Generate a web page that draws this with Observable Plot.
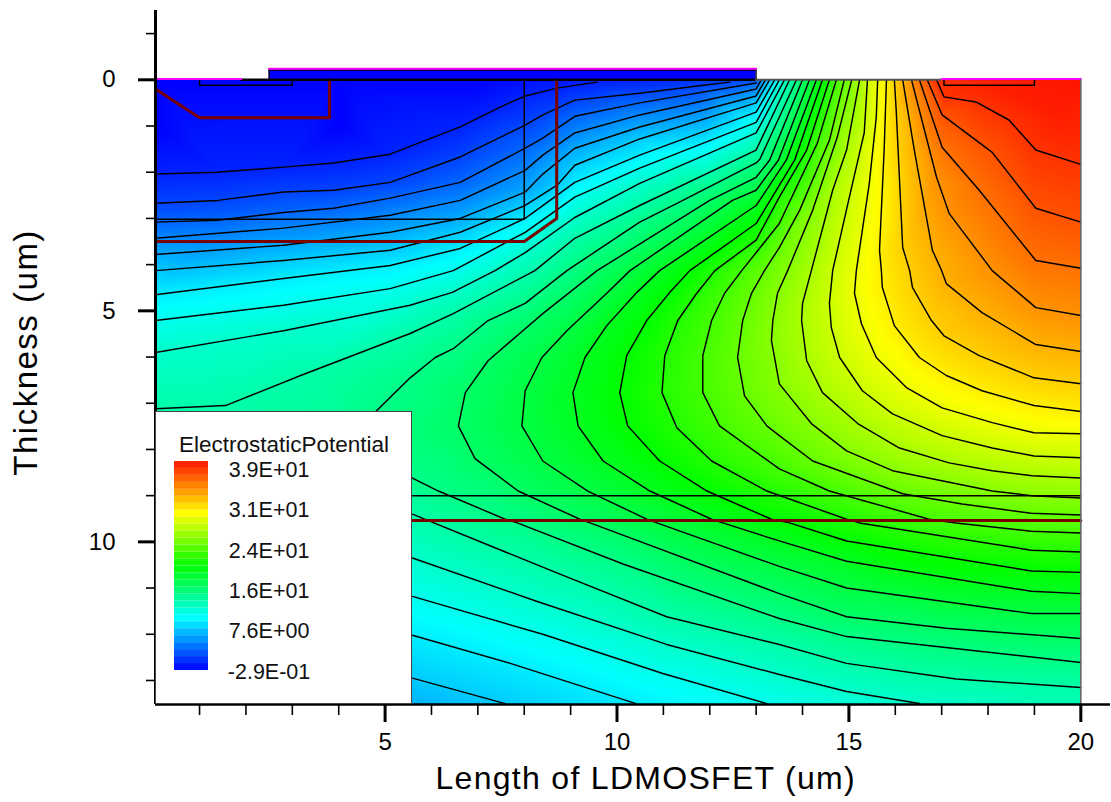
<!DOCTYPE html>
<html><head><meta charset="utf-8">
<script src="https://cdn.jsdelivr.net/npm/d3@7"></script>
<script src="https://cdn.jsdelivr.net/npm/@observablehq/plot@0.6"></script>
<style>
html,body{margin:0;padding:0;background:#fff}
#wrap{position:relative;width:1111px;height:802px;overflow:hidden}
#legend{position:absolute;left:155px;top:411px;width:257px;height:293px;background:#fff;box-sizing:border-box;box-shadow:inset 0 0 0 1px #444}
svg{display:block}
.xtitle text{letter-spacing:1.3px}
.ytitle text{letter-spacing:1.5px}
</style></head><body><div id="wrap"><div id="chart"></div><div id="legend"></div></div>
<script>
const levels = [1.02,2.33,3.64,4.95,6.26,7.57,8.88,10.19,11.5,12.81,14.12,15.43,16.74,18.05,19.36,20.67,21.98,23.29,24.6,25.91,27.22,28.53,29.84,31.15,32.46,33.77,35.08,36.39,37.7];
// Contour polylines, [x um, depth um]
const c01=[[0.05,2.04],[1.39,2.0],[2.81,1.89],[3.89,1.80],[5.11,1.61],[6.62,1.02],[7.48,0.59],[8.02,0.35],[8.71,0.18],[9.57,0.05]];
const c02=[[0.05,2.67],[1.39,2.61],[2.81,2.43],[3.89,2.39],[5.11,2.22],[6.62,1.67],[8.02,0.98],[8.40,0.76],[9.09,0.44],[10.49,0.29],[11.78,0.13],[12.43,0.05]];
const c03=[[0.05,3.08],[1.39,3.04],[2.81,2.87],[3.89,2.78],[5.11,2.56],[6.62,2.22],[8.02,1.48],[8.40,1.26],[9.09,0.79],[10.49,0.50],[13,0.07]];
const c04=[[0.05,3.43],[2.81,3.21],[5.11,2.93],[6.62,2.61],[8.02,1.96],[8.40,1.63],[9.09,1.15],[10.49,0.76],[13,0.20],[13.11,0]];
const c05=[[0.05,3.78],[2.81,3.58],[5.11,3.30],[6.62,3.0],[8.02,2.43],[8.40,2.04],[9.09,1.48],[10.49,1.02],[13,0.35],[13.2,0]];
const c06=[[0.05,4.13],[2.81,3.91],[5.11,3.69],[6.62,3.30],[8.02,2.72],[8.71,2.28],[9.09,1.85],[10.49,1.28],[13,0.50],[13.29,0]];
const c07=[[0.05,4.65],[2.81,4.30],[5.11,4.02],[6.62,3.65],[8.02,3.0],[9.09,2.22],[10.49,1.63],[13,0.70],[13.40,0]];
const c08=[[0.05,5.21],[2.81,4.88],[5.11,4.52],[6.47,4.13],[8.02,3.30],[9.09,2.54],[10.49,1.91],[13,0.92],[13.5,0]];
const c09=[[0.05,5.90],[2.81,5.43],[5.54,4.88],[6.45,4.60],[7.37,4.13],[8.02,3.74],[9.09,2.98],[10.49,2.24],[13,1.15],[13.61,0]];
const c10=[[0.05,7.12],[1.56,7.05],[3.18,6.40],[5.54,5.49],[6.47,5.06],[8.23,4.13],[9.09,3.43],[10.49,2.72],[13,1.52],[13.72,0]];
const c11=[[13.87,0],[13.08,1.72],[13,1.80],[11.42,2.61],[10.49,3.08],[8.92,4.13],[8.02,4.84],[7.22,5.21],[6.47,5.82],[6.08,6.01],[5.54,6.45],[4.8,7.18],[4.8,7.9],[5.59,8.62],[6.15,8.90],[7.59,9.51],[7.85,9.59],[10.13,10.48],[13.5,11.66],[14.95,12.05],[20,12.61]];
const c12=[[14.0,0],[13.29,1.74],[13,2.11],[12.0,2.61],[9.57,4.13],[8.40,5.06],[7.97,5.43],[7.22,6.08],[6.73,6.77],[6.58,7.49],[6.94,8.20],[7.87,8.90],[9.2,9.51],[9.42,9.59],[13.5,11.12],[14.95,11.62],[17.1,11.87],[20,12.09]];
const c13=[[14.15,0],[13.48,1.74],[13,2.39],[12.49,2.61],[10.28,4.13],[9.78,4.62],[8.92,5.43],[8.38,6.01],[8.02,6.73],[7.95,7.49],[8.40,8.25],[9.37,8.90],[10.64,9.51],[10.86,9.59],[13.5,10.53],[14.95,11.0],[18.93,11.55],[20,11.55]];
const c14=[[14.30,0],[13.65,1.74],[13,2.72],[10.92,4.13],[10.43,4.60],[9.78,5.32],[9.31,6.01],[9.05,6.77],[9.16,7.49],[9.70,8.25],[10.71,8.90],[12.04,9.51],[12.28,9.59],[13.5,9.98],[14.95,10.42],[18.93,11.07],[20,11.12]];
const c15=[[14.43,0],[13.83,1.74],[13,3.11],[11.57,4.13],[11.14,4.60],[10.64,5.21],[10.21,5.97],[10.06,6.77],[10.23,7.49],[10.92,8.25],[11.94,8.90],[13.33,9.51],[13.72,9.59],[14.95,9.98],[18.93,10.63],[20,10.66]];
const c16=[[14.58,0],[14.09,1.52],[13.5,2.54],[13,3.47],[12.11,4.13],[11.72,4.62],[11.31,5.21],[11.03,5.97],[10.97,6.77],[11.29,7.53],[12.04,8.25],[13.23,8.90],[14.95,9.51],[15.23,9.59],[18.93,10.18],[20,10.22]];
const c17=[[14.73,0],[14.32,1.37],[13.5,3.11],[12.69,4.13],[12.32,4.62],[12.04,5.21],[11.85,5.97],[11.85,6.77],[12.21,7.49],[13.5,8.42],[14.58,8.90],[16.73,9.51],[17.31,9.59],[18.93,9.77],[20,9.81]];
const c18=[[14.90,0],[14.58,1.31],[13.94,2.82],[13.5,3.63],[13.18,4.13],[12.90,4.62],[12.71,5.21],[12.60,6.01],[12.75,6.84],[13.23,7.49],[13.5,7.70],[14.22,8.25],[16.16,8.96],[17.44,9.18],[18.93,9.38],[20,9.42]];
const c19=[[15.06,0],[14.75,1.24],[14.22,2.82],[13.68,4.13],[13.46,4.62],[13.36,5.21],[13.33,5.64],[13.5,6.58],[14.19,7.44],[14.95,8.03],[15.94,8.46],[18.09,8.90],[18.93,9.0],[20,9.05]];
const c20=[[15.23,0],[14.95,1.52],[14.65,2.39],[14.19,4.13],[14.0,4.84],[13.98,5.21],[14.09,6.08],[14.43,6.77],[15.19,7.44],[16.09,7.97],[17.16,8.29],[18.09,8.46],[18.95,8.57],[20,8.62]];
const c21=[[15.40,0],[15.33,1.15],[15.01,2.54],[14.65,4.13],[14.58,4.84],[14.62,5.36],[14.80,6.01],[15.29,6.73],[15.94,7.23],[17.01,7.70],[18.09,7.97],[18.99,8.14],[20,8.18]];
const c22=[[15.62,0],[15.59,0.81],[15.44,2.24],[15.16,4.13],[15.12,4.62],[15.27,5.28],[15.59,6.01],[16.24,6.66],[17.01,7.10],[18.09,7.42],[18.99,7.64],[20,7.66]];
const c23=[[15.81,0],[15.76,1.52],[15.66,3.69],[15.70,4.13],[15.72,4.49],[15.98,5.32],[16.52,6.01],[17.10,6.40],[17.87,6.73],[18.99,7.05],[20,7.18]];
const c24=[[15.98,0],[16.02,0.66],[16.16,3.63],[16.31,4.13],[16.37,4.49],[16.78,5.21],[17.05,5.54],[17.81,5.97],[18.99,6.45],[20,6.58]];
const c25=[[16.16,0],[16.41,1.52],[16.80,3.69],[17.0,4.13],[17.10,4.41],[17.87,5.04],[19.03,5.73],[20,5.88]];
const c26=[[16.35,0],[16.89,2.11],[17.16,2.89],[18.09,4.13],[19.03,4.93],[20,5.10]];
const c27=[[16.52,0],[17.01,1.46],[17.81,2.39],[19.03,3.91],[20,4.08]];
const c28=[[16.69,0],[17.01,0.76],[18.09,1.57],[19.03,2.78],[20,3.08]];
const c29=[[16.89,0],[17.05,0.37],[17.74,0.48],[18.45,0.87],[19.03,1.52],[20,1.83]];
// Lower arms (emerge from behind the legend)
const c06b=[[5.59,12.95],[7.59,13.5]];
const c07b=[[5.59,12.02],[7.70,12.63],[10.41,13.5]];
const c08b=[[5.59,11.18],[8.40,12.0],[10.99,12.85],[13.23,13.5]];
const c09b=[[5.59,10.35],[8.28,11.29],[11.07,12.22],[13.5,12.87],[14.95,13.24],[16.52,13.5]];
const c10b=[[5.59,9.40],[8.77,10.70],[11.07,11.62],[13.5,12.22],[14.95,12.63],[17.31,12.97],[20,13.15]];
// Field values between the lines: [x, depth, volts]
const fieldExtra=[[0.05,0,-0.29],[4,0,-0.29],[7,0,-0.29],[0.05,1,-0.29],[4,1,-0.29],[11,0,1.2],[13,0,3],
 [18,0,38.6],[20,0,39],[19.5,0.8,38.6],[0.05,13.52,5],[5.59,13.52,6.6],[20,13.52,12.4],[0.05,10,12]];

const contourSets=[c01,c02,c03,c04,c05,c06,c07,c08,c09,c10,c11,c12,c13,c14,c15,c16,c17,c18,c19,c20,c21,c22,c23,c24,c25,c26,c27,c28,c29];
const lowerSets=[[c06b,5],[c07b,6],[c08b,7],[c09b,8],[c10b,9]];
const pts=[];
contourSets.forEach((c,i)=>c.forEach(p=>pts.push({id:"u"+i,x:p[0],y:p[1],v:levels[i]})));
lowerSets.forEach(([c,i])=>c.forEach(p=>pts.push({id:"l"+i,x:p[0],y:p[1],v:levels[i]})));
const field=pts.concat(fieldExtra.map(p=>({x:p[0],y:p[1],v:p[2]})));

// Colour scale stops
const colorDomain=[-0.29,9.53,19.35,29.17,39];
const colorRange=["#0000ff","#00ffff","#00ff00","#ffff00","#ff1400"];
const colorScale={type:"linear",domain:colorDomain,range:colorRange,interpolate:"rgb",clamp:true};

// Device structure outlines
const gate=[{x1:2.5,x2:13,y1:-0.22,y2:0,v:-0.29}];
const magentaLines=[[[0.05,-0.02],[1.9,-0.02]],[[2.5,-0.24],[13,-0.24]],[[17,-0.02],[20,-0.02]]];
const blackThin=[[[1,0],[1,0.12],[3,0.12],[3,0]],[[17.05,0],[17.05,0.12],[19,0.12],[19,0]],[[8,0],[8,3.02],[0.05,3.02]],[[5.59,9.0],[20,9.0]]];
const redLines=[[[0.05,0.2],[1,0.82],[3.8,0.82],[3.8,0]],[[8.7,0],[8.7,3.0],[8,3.5],[0.05,3.5]],[[5.59,9.54],[20,9.54]]];
const toRows=(sets)=>sets.flatMap((s,i)=>s.map(p=>({id:i,x:p[0],y:p[1]})));

const xMajor=[5,10,15,20], xMinor=[1,2,3,4,6,7,8,9,11,12,13,14,16,17,18,19];
const yMajor=[0,5,10], yMinor=[-1,1,2,3,4,6,7,8,9,11,12,13];
const font="'Liberation Sans',Arial,sans-serif";

const chart=Plot.plot({
  width:1111,height:802,
  marginLeft:155,marginRight:1,marginTop:10,marginBottom:98,
  x:{domain:[0.05,20.64],axis:null},
  y:{domain:[-1.5,13.52],reverse:true,axis:null},
  color:colorScale,
  style:{fontFamily:font,background:"#fff",overflow:"visible"},
  marks:[
    Plot.raster(field,{x:"x",y:"y",fill:"v",interpolate:"barycentric",pixelSize:1,x1:0.05,x2:20,y1:0,y2:13.52,imageRendering:"auto"}),
    Plot.rect(gate,{x1:"x1",x2:"x2",y1:"y1",y2:"y2",fill:"v"}),
    Plot.line(pts,{x:"x",y:"y",z:"id",stroke:"#000",strokeWidth:1.45,curve:"linear"}),
    Plot.line(toRows(blackThin),{x:"x",y:"y",z:"id",stroke:"#000",strokeWidth:1.5}),
    Plot.line(toRows(redLines),{x:"x",y:"y",z:"id",stroke:"#7a0000",strokeWidth:3}),
    Plot.ruleY([0],{x1:1.9,x2:13,stroke:"#000",strokeWidth:2.6}),
    Plot.ruleY([0],{x1:13,x2:17,stroke:"#555",strokeWidth:2}),
    Plot.ruleX([2.5],{y1:-0.24,y2:0,stroke:"#000",strokeWidth:1.2}),
    Plot.ruleX([13],{y1:-0.24,y2:0,stroke:"#000",strokeWidth:1.2}),
    Plot.ruleY([-0.21],{x1:2.5,x2:13,stroke:"#000",strokeWidth:1.2}),
    Plot.line(toRows(magentaLines),{x:"x",y:"y",z:"id",stroke:"#ff00ff",strokeWidth:2}),
    Plot.ruleX([20],{y1:0,y2:13.52,stroke:"#666",strokeWidth:1.6}),
    Plot.ruleX([0.05],{y1:-1.5,y2:13.52,stroke:"#000",strokeWidth:3}),
    Plot.ruleY([13.52],{x1:0.05,x2:20.64,stroke:"#000",strokeWidth:2.4}),
    Plot.axisX({ticks:xMinor,tickSize:11,strokeWidth:1.6,stroke:"#000",tickFormat:()=>"",label:null}),
    Plot.axisX({ticks:xMajor,tickSize:18,strokeWidth:3,stroke:"#000",tickPadding:10,fontSize:24,label:null,tickFormat:d=>d}),
    Plot.axisY({ticks:yMinor,tickSize:9,strokeWidth:1.6,stroke:"#000",tickFormat:()=>"",label:null}),
    Plot.axisY({ticks:yMajor,tickSize:17,strokeWidth:3,stroke:"#000",tickPadding:23,fontSize:24,label:null,tickFormat:d=>d}),
    Plot.text(["Length of LDMOSFET (um)"],{x:()=>10.62,frameAnchor:"bottom",dy:84,fontSize:32,fill:"#000",className:"xtitle"}),
    Plot.text(["Thickness (um)"],{y:()=>5.9,frameAnchor:"left",textAnchor:"middle",dx:-129,rotate:-90,fontSize:33,fill:"#000",className:"ytitle"})
  ]
});
document.getElementById("chart").appendChild(chart);

// Legend
const bandEdges=[-0.29,1.02,2.33,3.64,4.95,6.26,7.57,8.88,10.19,11.5,12.81,14.12,15.43,16.74,18.05,19.36,20.67,21.98,23.29,24.6,25.91,27.22,28.53,29.84,31.15,32.46,33.77,35.08,36.39,37.7,39];
const legendLabels=["3.9E+01","3.1E+01","2.4E+01","1.6E+01","7.6E+00","-2.9E-01"];
const legendLabelAt=[37.3,29.8,22.1,14.6,7.04,-0.67];
const bands=bandEdges.slice(0,-1).map((a,i)=>({a,b:bandEdges[i+1],m:(a+bandEdges[i+1])/2}));
const legend=Plot.plot({
  width:257,height:293,margin:0,
  x:{domain:[0,1],range:[19,53],axis:null},
  y:{domain:[-0.29,39],range:[259,50],axis:null},
  color:colorScale,
  style:{fontFamily:font,background:"transparent",overflow:"visible"},
  marks:[
    Plot.rect(bands,{x1:()=>0,x2:()=>1,y1:"a",y2:"b",fill:"m"}),
    Plot.text(legendLabels,{x:()=>2.78,y:(d,i)=>legendLabelAt[i],text:d=>d,fontSize:21.5,fill:"#111"}),
    Plot.text(["ElectrostaticPotential"],{frameAnchor:"top",dy:25,fontSize:22.5,fill:"#111"})
  ]
});
document.getElementById("legend").appendChild(legend);
</script></body></html>
